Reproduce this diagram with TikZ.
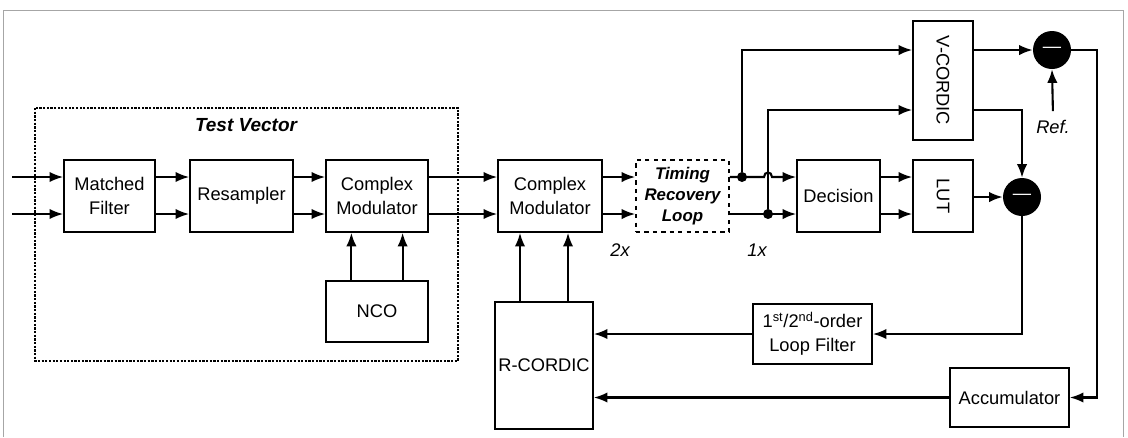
\documentclass[tikz,border=0pt]{standalone}
\usepackage{fontspec}
\setmainfont{Liberation Sans}
\usepackage{graphicx}
\usetikzlibrary{arrows.meta}
\tikzset{
  blk/.style={draw, line width=1.1pt, align=center, inner sep=1pt},
  arr/.style={-{Latex[length=0.34cm,width=0.26cm]}, line width=1.5pt},
  sub/.style={circle, fill=black, minimum size=0.95cm, inner sep=0pt, text=white},
  dot/.style={circle, fill=black, minimum size=0.25cm, inner sep=0pt},
}
\begin{document}
\begin{tikzpicture}[x=0.025cm, y=-0.025cm, font=\fontsize{13}{17}\selectfont]
\useasboundingbox (0,0) rectangle (1128,437);
\draw[black!35, line width=0.5pt] (3,437) -- (3,10) -- (1123,10) -- (1123,437);

% test vector
\draw[densely dotted, line width=1.6pt] (35,108) rectangle (458,361);
\node[font=\fontsize{13.5}{16}\selectfont\bfseries\itshape] (tv) at (246,125) {Test Vector};

% blocks
\node[blk, minimum width=2.275cm, minimum height=1.8cm] (mf) at (109.5,196) {Matched\\Filter};
\node[blk, minimum width=2.575cm, minimum height=1.8cm] (res) at (241.5,196) {Resampler};
\node[blk, minimum width=2.55cm, minimum height=1.8cm] (cm1) at (377,196) {Complex\\Modulator};
\node[blk, minimum width=2.55cm, minimum height=1.525cm] (nco) at (377,311.5) {NCO};
\node[blk, minimum width=2.6cm, minimum height=1.8cm] (cm2) at (550,196) {Complex\\Modulator};
\node[blk, dashed, minimum width=2.325cm, minimum height=1.8cm,
      font=\fontsize{12}{15}\selectfont\bfseries\itshape] (trl) at (682.5,196) {Timing\\Recovery\\Loop};
\node[blk, minimum width=2.075cm, minimum height=1.8cm] (dec) at (838.5,196) {Decision};
\node[blk, minimum width=1.5cm, minimum height=1.8cm] (lut) at (943,196) {\rotatebox{-90}{LUT}};
\node[blk, minimum width=1.5cm, minimum height=2.975cm] (vc) at (943,80.5) {\rotatebox{-90}{V-CORDIC}};
\node[sub] (s1) at (1052,50) {---};
\node[sub] (s2) at (1022,197) {---};
\node[font=\fontsize{13}{16}\selectfont\itshape] (ref) at (1053,127) {Ref.};
\node[blk, minimum width=2.975cm, minimum height=1.5cm] (lf) at (812.5,334) {1\textsuperscript{st}/2\textsuperscript{nd}-order\\Loop Filter};
\node[blk, minimum width=2.45cm, minimum height=3.175cm] (rc) at (544,365.5) {R-CORDIC};
\node[blk, minimum width=2.975cm, minimum height=1.475cm] (acc) at (1009.5,397.5) {Accumulator};
\node[font=\fontsize{13}{16}\selectfont\itshape] (rate2) at (620,250) {2x};
\node[font=\fontsize{13}{16}\selectfont\itshape] (rate1) at (757,250) {1x};

\coordinate (r0) at (0,50);
\coordinate (rv) at (0,110);
\coordinate (r1) at (0,177);
\coordinate (r2) at (0,214);
\coordinate (in1) at (12,177);
\coordinate (in2) at (12,214);
\coordinate (turn) at (1097,0);
\node[dot] (j1) at (742,177) {};
\node[dot] (j2) at (768,214) {};

% signal path
\draw[arr] (in1) -- (mf.west |- in1);
\draw[arr] (in2) -- (mf.west |- in2);
\foreach \a/\b in {mf/res,res/cm1,cm1/cm2,cm2/trl,dec/lut}
{
  \draw[arr] (\a.east |- r1) -- (\b.west |- r1);
  \draw[arr] (\a.east |- r2) -- (\b.west |- r2);
}
\foreach \s in {-0.64,0.64}
  \draw[arr] ([xshift=\s cm]nco.north) -- ([xshift=\s cm]cm1.south);
\foreach \s in {-0.6,0.6}
  \draw[arr] ([xshift=\s cm]rc.north) -- ([xshift=\s cm]rc.north |- cm2.south);
\draw[arr] (trl.east |- r1) -- (764,177) .. controls (764,171) and (772,171) .. (772,177) -- (dec.west |- r1);
\draw[arr] (trl.east |- r2) -- (dec.west |- r2);
\draw[arr] (j1) |- (vc.west |- r0);
\draw[arr] (j2) |- (vc.west |- rv);

% error and feedback
\draw[arr] (vc.east |- r0) -- (s1.west);
\draw[arr] (vc.east |- rv) -| (s2.north);
\draw[arr] (lut.east |- s2) -- (s2.west);
\draw[arr, shorten <=3pt] (ref.north) -- (s1.south);
\draw[arr] (s2.south) |- (lf.east);
\draw[arr] (lf.west) -- (rc.east |- lf.west);
\draw[arr] (s1.east) -| (turn |- acc.east) -- (acc.east);
\draw[arr] (acc.west) -- (rc.east |- acc.west);
\end{tikzpicture}
\end{document}
